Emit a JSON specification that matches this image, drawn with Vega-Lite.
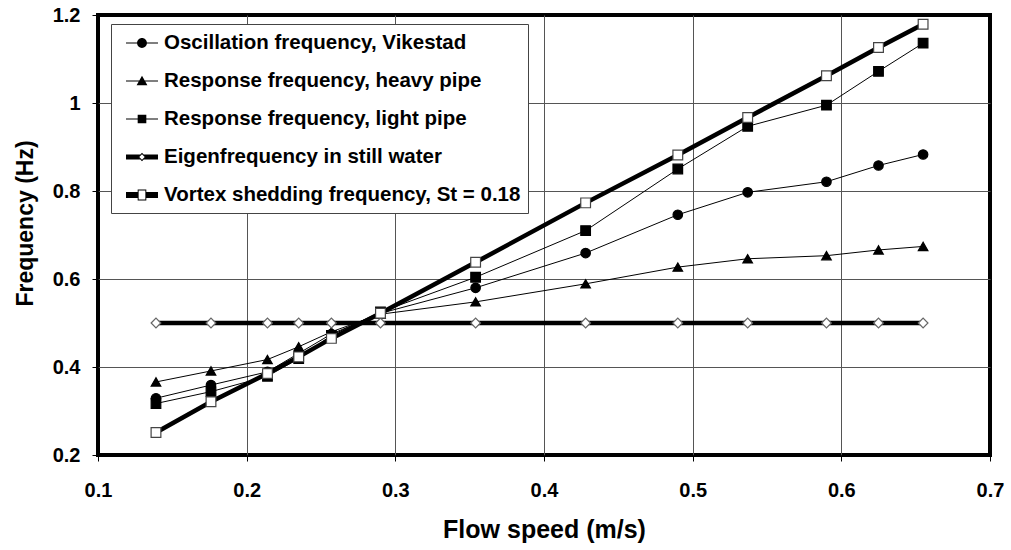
{
  "$schema": "https://vega.github.io/schema/vega-lite/v6.json",
  "width": 892,
  "height": 440,
  "autosize": {"type": "none"},
  "padding": {"left": 98, "top": 15, "right": 21, "bottom": 95},
  "background": "white",
  "config": {
    "view": {"stroke": "black", "strokeWidth": 4},
    "font": "Liberation Sans"
  },
  "data": {
    "values": [
      {"x": 0.139, "f": 0.329, "s": "Oscillation frequency, Vikestad"},
      {"x": 0.176, "f": 0.359, "s": "Oscillation frequency, Vikestad"},
      {"x": 0.214, "f": 0.389, "s": "Oscillation frequency, Vikestad"},
      {"x": 0.235, "f": 0.431, "s": "Oscillation frequency, Vikestad"},
      {"x": 0.257, "f": 0.475, "s": "Oscillation frequency, Vikestad"},
      {"x": 0.290, "f": 0.522, "s": "Oscillation frequency, Vikestad"},
      {"x": 0.354, "f": 0.580, "s": "Oscillation frequency, Vikestad"},
      {"x": 0.428, "f": 0.659, "s": "Oscillation frequency, Vikestad"},
      {"x": 0.490, "f": 0.746, "s": "Oscillation frequency, Vikestad"},
      {"x": 0.537, "f": 0.797, "s": "Oscillation frequency, Vikestad"},
      {"x": 0.590, "f": 0.821, "s": "Oscillation frequency, Vikestad"},
      {"x": 0.625, "f": 0.858, "s": "Oscillation frequency, Vikestad"},
      {"x": 0.655, "f": 0.883, "s": "Oscillation frequency, Vikestad"},
      {"x": 0.139, "f": 0.366, "s": "Response frequency, heavy pipe"},
      {"x": 0.176, "f": 0.391, "s": "Response frequency, heavy pipe"},
      {"x": 0.214, "f": 0.417, "s": "Response frequency, heavy pipe"},
      {"x": 0.235, "f": 0.446, "s": "Response frequency, heavy pipe"},
      {"x": 0.257, "f": 0.480, "s": "Response frequency, heavy pipe"},
      {"x": 0.290, "f": 0.520, "s": "Response frequency, heavy pipe"},
      {"x": 0.354, "f": 0.548, "s": "Response frequency, heavy pipe"},
      {"x": 0.428, "f": 0.589, "s": "Response frequency, heavy pipe"},
      {"x": 0.490, "f": 0.627, "s": "Response frequency, heavy pipe"},
      {"x": 0.537, "f": 0.646, "s": "Response frequency, heavy pipe"},
      {"x": 0.590, "f": 0.653, "s": "Response frequency, heavy pipe"},
      {"x": 0.625, "f": 0.666, "s": "Response frequency, heavy pipe"},
      {"x": 0.655, "f": 0.674, "s": "Response frequency, heavy pipe"},
      {"x": 0.139, "f": 0.317, "s": "Response frequency, light pipe"},
      {"x": 0.176, "f": 0.344, "s": "Response frequency, light pipe"},
      {"x": 0.214, "f": 0.379, "s": "Response frequency, light pipe"},
      {"x": 0.235, "f": 0.419, "s": "Response frequency, light pipe"},
      {"x": 0.257, "f": 0.472, "s": "Response frequency, light pipe"},
      {"x": 0.290, "f": 0.525, "s": "Response frequency, light pipe"},
      {"x": 0.354, "f": 0.604, "s": "Response frequency, light pipe"},
      {"x": 0.428, "f": 0.710, "s": "Response frequency, light pipe"},
      {"x": 0.490, "f": 0.850, "s": "Response frequency, light pipe"},
      {"x": 0.537, "f": 0.947, "s": "Response frequency, light pipe"},
      {"x": 0.590, "f": 0.995, "s": "Response frequency, light pipe"},
      {"x": 0.625, "f": 1.072, "s": "Response frequency, light pipe"},
      {"x": 0.655, "f": 1.136, "s": "Response frequency, light pipe"},
      {"x": 0.139, "f": 0.5, "s": "Eigenfrequency in still water"},
      {"x": 0.176, "f": 0.5, "s": "Eigenfrequency in still water"},
      {"x": 0.214, "f": 0.5, "s": "Eigenfrequency in still water"},
      {"x": 0.235, "f": 0.5, "s": "Eigenfrequency in still water"},
      {"x": 0.257, "f": 0.5, "s": "Eigenfrequency in still water"},
      {"x": 0.290, "f": 0.5, "s": "Eigenfrequency in still water"},
      {"x": 0.354, "f": 0.5, "s": "Eigenfrequency in still water"},
      {"x": 0.428, "f": 0.5, "s": "Eigenfrequency in still water"},
      {"x": 0.490, "f": 0.5, "s": "Eigenfrequency in still water"},
      {"x": 0.537, "f": 0.5, "s": "Eigenfrequency in still water"},
      {"x": 0.590, "f": 0.5, "s": "Eigenfrequency in still water"},
      {"x": 0.625, "f": 0.5, "s": "Eigenfrequency in still water"},
      {"x": 0.655, "f": 0.5, "s": "Eigenfrequency in still water"},
      {"x": 0.139, "f": 0.251, "s": "Vortex shedding frequency, St = 0.18"},
      {"x": 0.176, "f": 0.321, "s": "Vortex shedding frequency, St = 0.18"},
      {"x": 0.214, "f": 0.385, "s": "Vortex shedding frequency, St = 0.18"},
      {"x": 0.235, "f": 0.423, "s": "Vortex shedding frequency, St = 0.18"},
      {"x": 0.257, "f": 0.465, "s": "Vortex shedding frequency, St = 0.18"},
      {"x": 0.290, "f": 0.522, "s": "Vortex shedding frequency, St = 0.18"},
      {"x": 0.354, "f": 0.638, "s": "Vortex shedding frequency, St = 0.18"},
      {"x": 0.428, "f": 0.773, "s": "Vortex shedding frequency, St = 0.18"},
      {"x": 0.490, "f": 0.882, "s": "Vortex shedding frequency, St = 0.18"},
      {"x": 0.537, "f": 0.967, "s": "Vortex shedding frequency, St = 0.18"},
      {"x": 0.590, "f": 1.062, "s": "Vortex shedding frequency, St = 0.18"},
      {"x": 0.625, "f": 1.126, "s": "Vortex shedding frequency, St = 0.18"},
      {"x": 0.655, "f": 1.179, "s": "Vortex shedding frequency, St = 0.18"}
    ]
  },
  "encoding": {
    "x": {
      "field": "x",
      "type": "quantitative",
      "scale": {"domain": [0.1, 0.7], "nice": false, "zero": false},
      "axis": {
        "values": [0.1, 0.2, 0.3, 0.4, 0.5, 0.6, 0.7],
        "format": "~g",
        "domain": false,
        "grid": true,
        "gridColor": "#555",
        "gridWidth": 1,
        "gridOpacity": {"condition": {"test": "datum.value <= 0.1 || datum.value >= 0.7", "value": 0}, "value": 1},
        "ticks": true,
        "tickColor": "black",
        "tickSize": 6,
        "tickWidth": 1,
        "labelFlush": false,
        "labelOverlap": false,
        "labelFont": "Liberation Sans",
        "labelFontWeight": "bold",
        "labelFontSize": 20,
        "labelColor": "black",
        "labelPadding": 19,
        "title": "Flow speed (m/s)",
        "titleFont": "Liberation Sans",
        "titleFontWeight": "bold",
        "titleFontSize": 25,
        "titleColor": "black",
        "titleBaseline": "alphabetic",
        "titleY": 82
      }
    },
    "y": {
      "field": "f",
      "type": "quantitative",
      "scale": {"domain": [0.2, 1.2], "nice": false, "zero": false},
      "axis": {
        "values": [0.2, 0.4, 0.6, 0.8, 1, 1.2],
        "format": "~g",
        "domain": false,
        "grid": true,
        "gridColor": "#555",
        "gridWidth": 1,
        "gridOpacity": {"condition": {"test": "datum.value <= 0.2 || datum.value >= 1.2", "value": 0}, "value": 1},
        "ticks": true,
        "tickColor": "black",
        "tickSize": 6,
        "tickWidth": 1,
        "labelFlush": false,
        "labelOverlap": false,
        "labelFont": "Liberation Sans",
        "labelFontWeight": "bold",
        "labelFontSize": 20,
        "labelColor": "black",
        "labelPadding": 12,
        "title": "Frequency (Hz)",
        "titleFont": "Liberation Sans",
        "titleFontWeight": "bold",
        "titleFontSize": 23,
        "titleColor": "black",
        "titleAngle": -90,
        "titleAlign": "center",
        "titleBaseline": "alphabetic",
        "titleX": -66,
        "titleY": 208
      }
    }
  },
  "layer": [
    {
      "transform": [{"filter": {"field": "s", "oneOf": ["Oscillation frequency, Vikestad", "Response frequency, heavy pipe", "Response frequency, light pipe"]}}],
      "mark": {"type": "line", "color": "black", "strokeWidth": 1},
      "encoding": {"detail": {"field": "s"}}
    },
    {
      "transform": [{"filter": {"field": "s", "oneOf": ["Eigenfrequency in still water", "Vortex shedding frequency, St = 0.18"]}}],
      "mark": {"type": "line", "color": "black", "strokeWidth": 4.5},
      "encoding": {"detail": {"field": "s"}}
    },
    {
      "mark": {"type": "point", "opacity": 1, "strokeWidth": 1.2},
      "encoding": {
        "shape": {
          "field": "s",
          "type": "nominal",
          "scale": {
            "domain": ["Oscillation frequency, Vikestad", "Response frequency, heavy pipe", "Response frequency, light pipe", "Eigenfrequency in still water", "Vortex shedding frequency, St = 0.18"],
            "range": ["circle", "triangle-up", "square", "diamond", "square"]
          },
          "legend": null
        },
        "fill": {
          "field": "s",
          "type": "nominal",
          "scale": {
            "domain": ["Oscillation frequency, Vikestad", "Response frequency, heavy pipe", "Response frequency, light pipe", "Eigenfrequency in still water", "Vortex shedding frequency, St = 0.18"],
            "range": ["black", "black", "black", "white", "white"]
          },
          "legend": null
        },
        "stroke": {
          "field": "s",
          "type": "nominal",
          "scale": {
            "domain": ["Oscillation frequency, Vikestad", "Response frequency, heavy pipe", "Response frequency, light pipe", "Eigenfrequency in still water", "Vortex shedding frequency, St = 0.18"],
            "range": ["black", "black", "black", "#666666", "#444444"]
          },
          "legend": null
        },
        "size": {
          "field": "s",
          "type": "nominal",
          "scale": {
            "domain": ["Oscillation frequency, Vikestad", "Response frequency, heavy pipe", "Response frequency, light pipe", "Eigenfrequency in still water", "Vortex shedding frequency, St = 0.18"],
            "range": [90, 95, 75, 40, 95]
          },
          "legend": null
        }
      }
    },
    {
      "mark": {"type": "point", "filled": true, "color": "black", "opacity": 0},
      "encoding": {
        "shape": {
          "field": "s",
          "type": "nominal",
          "scale": {
            "domain": ["Oscillation frequency, Vikestad", "Response frequency, heavy pipe", "Response frequency, light pipe", "Eigenfrequency in still water", "Vortex shedding frequency, St = 0.18"],
            "range": [
              "M-1.333,-0.05H1.333V0.05H-1.333Z M0.41,0A0.41,0.41 0 1,1 -0.41,0A0.41,0.41 0 1,1 0.41,0Z",
              "M-1.333,-0.05H1.333V0.05H-1.333Z M0,-0.43L0.45,0.35L-0.45,0.35Z",
              "M-1.333,-0.05H1.333V0.05H-1.333Z M-0.36,-0.36H0.36V0.36H-0.36Z",
              "M-1.333,-0.2L-0.147,-0.2L-0.347,0L-0.147,0.2L-1.333,0.2Z M0.147,-0.2L1.333,-0.2L1.333,0.2L0.147,0.2L0.347,0Z M0,-0.347L0.347,0L0,0.347L-0.347,0Z M0,-0.227L-0.227,0L0,0.227L0.227,0Z",
              "M-1.333,-0.24H-0.36V0.24H-1.333Z M0.36,-0.24H1.333V0.24H0.36Z M-0.36,-0.45H0.36V0.45H-0.36Z M-0.28,-0.37V0.37H0.28V-0.37Z"
            ]
          },
          "legend": {
            "title": null,
            "orient": "none",
            "legendX": 13,
            "legendY": 9,
            "direction": "vertical",
            "padding": 7,
            "fillColor": "white",
            "strokeColor": "#444444",
            "symbolSize": 576,
            "symbolOpacity": 1,
            "symbolFillColor": "black",
            "symbolStrokeColor": "black",
            "symbolStrokeWidth": 0,
            "symbolOffset": 12,
            "labelFont": "Liberation Sans",
            "labelFontWeight": "bold",
            "labelFontSize": 20.5,
            "labelColor": "black",
            "labelOffset": 10,
            "labelLimit": 0,
            "rowPadding": 15,
            "encode": {"symbols": {"update": {"opacity": {"value": 1}}}}
          }
        }
      }
    }
  ],
  "resolve": {"scale": {"shape": "independent"}}
}
